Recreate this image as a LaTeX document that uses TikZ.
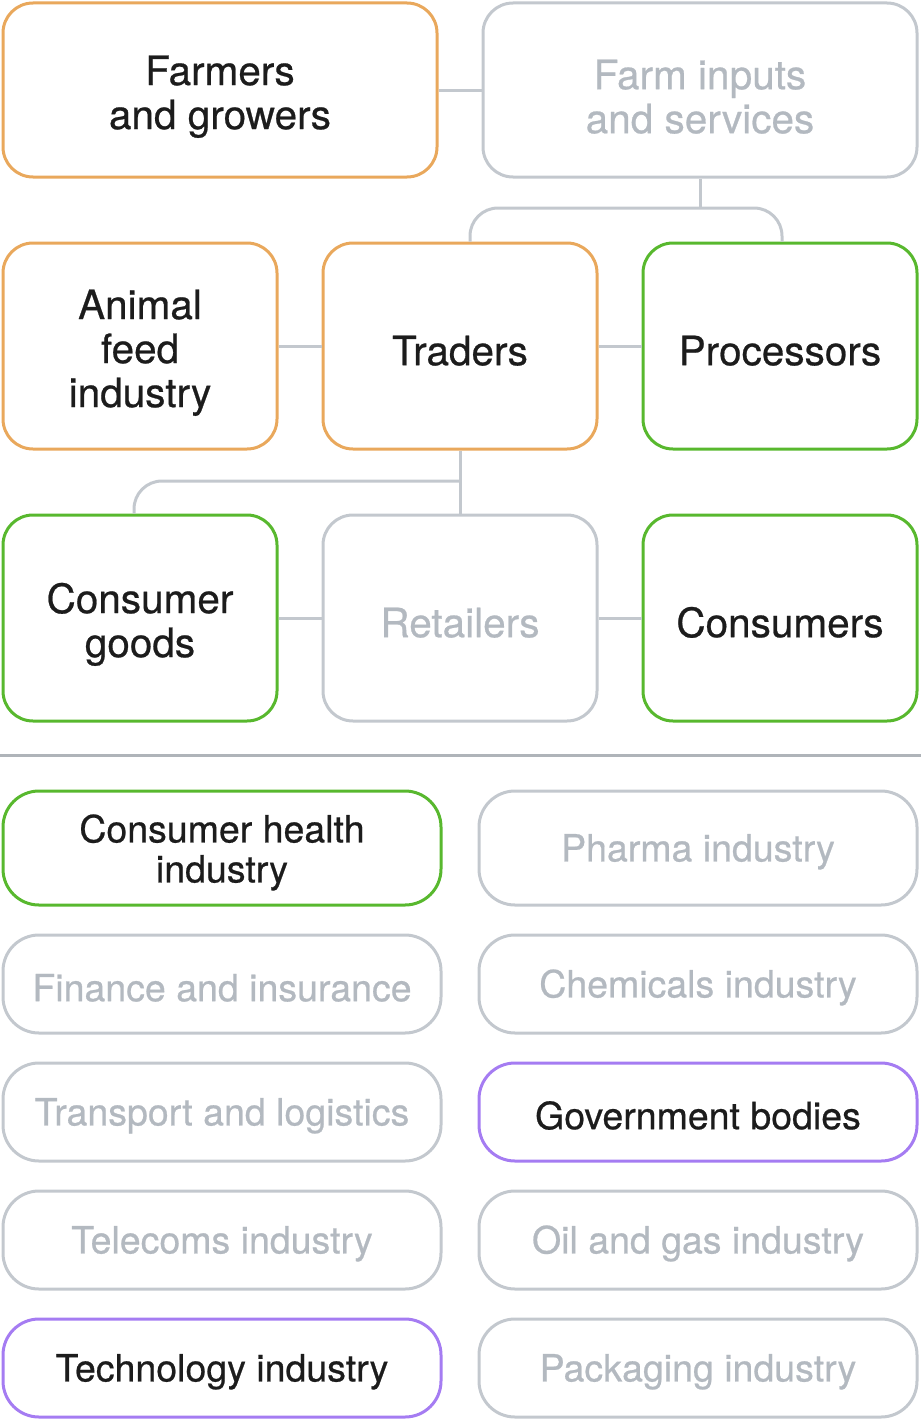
\documentclass[tikz,border=0pt]{standalone}
\usepackage{fontspec}
\setmainfont{TeX Gyre Heros}[FakeBold=0.6]
\usepackage{xcolor}
\usepackage{tikz}
\definecolor{orangeline}{HTML}{E9A85C}
\definecolor{greenline}{HTML}{58B82E}
\definecolor{purpleline}{HTML}{A57CF2}
\definecolor{grayline}{HTML}{C3C8CE}
\definecolor{graytext}{HTML}{B3B9C0}
\definecolor{darktext}{HTML}{1C1C1C}
\newcommand{\liftup}[1]{\rule{0pt}{#1}}

\begin{document}
\begin{tikzpicture}[x=1pt, y=-1pt,
        box/.style={draw, line width=3pt, rounded corners=30pt, align=center, inner sep=0pt, text=darktext},
        bigbox/.style={box, minimum width=274pt, minimum height=206pt, font=\fontsize{40.5}{44}\selectfont,
            execute at begin node={\rule{0pt}{39pt}}},
        widebox/.style={bigbox, minimum width=434pt, minimum height=174pt},
        sectorbox/.style={box, rounded corners=36pt, minimum width=438pt, minimum height=98pt, font=\fontsize{37.5}{40}\selectfont,
            execute at begin node={\rule{0pt}{35pt}}},
        orangebox/.style={draw=orangeline},
        greenbox/.style={draw=greenline},
        purplebox/.style={draw=purpleline},
        graybox/.style={draw=grayline, text=graytext},
        link/.style={draw=grayline, line width=3pt}]
                \useasboundingbox (0,0) rectangle (921,1421);

                % Top chain
                \node[widebox, orangebox] (farmers) at (220,90) {\liftup{43pt}Farmers\\and growers};
                \node[widebox, graybox] (inputs) at (700,90) {\liftup{43pt}Farm inputs\\and services};

                \node[bigbox, orangebox] (feed) at (140,346) {\liftup{43pt}Animal\\feed\\industry};
                \node[bigbox, orangebox] (traders) at (460,346) {Traders};
                \node[bigbox, greenbox] (processors) at (780,346) {Processors};

                \node[bigbox, greenbox] (goods) at (140,618) {\liftup{43pt}Consumer\\goods};
                \node[bigbox, graybox] (retailers) at (460,618) {Retailers};
                \node[bigbox, greenbox] (consumers) at (780,618) {Consumers};

                % Connectors
                \coordinate (splitA) at (700,208);
                \coordinate (splitB) at (460,481);
                \draw[link] (farmers.east) -- (inputs.west);
                \draw[link] (inputs.south) -- (splitA);
                \draw[link, rounded corners=28pt] ([xshift=10pt]traders.north) |- (splitA) -| ([xshift=2pt]processors.north);
                \draw[link] (feed.east) -- (traders.west);
                \draw[link] (traders.east) -- (processors.west);
                \draw[link] (traders.south) -- (retailers.north);
                \draw[link, rounded corners=28pt] (splitB) -| ([xshift=-6pt]goods.north);
                \draw[link] (goods.east) -- (retailers.west);
                \draw[link] (retailers.east) -- (consumers.west);

                % Divider
                \coordinate (divL) at (0,755);
                \coordinate (divR) at (921,755);
                \draw[draw=grayline!90!black, line width=3pt] (divL) -- (divR);

                % Other sectors
                \node[sectorbox, greenbox, minimum height=114pt] (health) at (222,848) {\liftup{37pt}Consumer health\\industry};
                \node[sectorbox, graybox, minimum height=114pt] (pharma) at (698,848) {Pharma industry};
                \node[sectorbox, graybox] (finance) at (222,984) {Finance and insurance};
                \node[sectorbox, graybox] (chemicals) at (698,984) {Chemicals industry};
                \node[sectorbox, graybox] (transport) at (222,1112) {Transport and logistics};
                \node[sectorbox, purplebox] (government) at (698,1112) {Government bodies};
                \node[sectorbox, graybox] (telecoms) at (222,1240) {Telecoms industry};
                \node[sectorbox, graybox] (oilgas) at (698,1240) {Oil and gas industry};
                \node[sectorbox, purplebox] (technology) at (222,1368) {Technology industry};
                \node[sectorbox, graybox] (packaging) at (698,1368) {Packaging industry};
            \end{tikzpicture}
\end{document}
